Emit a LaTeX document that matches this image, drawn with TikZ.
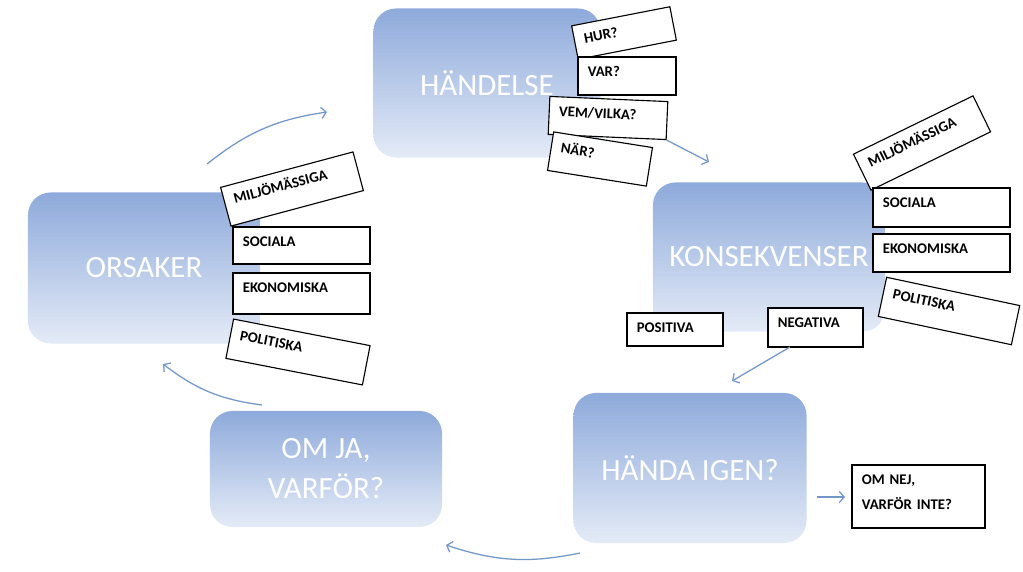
\documentclass[tikz,border=0pt]{standalone}
\usepackage{fontspec}
\setmainfont{Carlito}
\usetikzlibrary{arrows.meta}
\definecolor{boxtop}{HTML}{8EAADB}
\definecolor{boxbottom}{HTML}{E4EBF7}
\definecolor{flow}{HTML}{7397C9}
\tikzstyle{stage}=[rounded corners=16pt, top color=boxtop, bottom color=boxbottom, draw=none, text=white, font=\fontsize{22}{28.5}\selectfont, align=center, inner sep=0pt]
\tikzstyle{tag}=[draw, fill=white, line width=0.8pt, font=\fontsize{10.5}{17.8}\selectfont\bfseries, align=left, inner xsep=7pt, inner ysep=4pt, text height=10pt]
\tikzstyle{flowarrow}=[draw=flow, line width=0.9pt, -{Straight Barb[length=3.5pt,width=8pt]}]

\begin{document}
\begin{tikzpicture}[x=0.025cm, y=-0.025cm]
    \useasboundingbox (0,0) rectangle (1023,571);

    % the five steps
    \foreach \x/\y/\w/\h/\name/\txt in {487/83/227/149/haendelse/HÄNDELSE, 144/268/232/151/orsaker/ORSAKER, 769/257/232/149/konsekvenser/KONSEKVENSER, 690/468/233/150/handa/HÄNDA IGEN?, 326/469/232/116/omja/{OM JA,\\VARFÖR?}}
        \node[stage, minimum width=\w*0.7113pt, minimum height=\h*0.7113pt] (\name) at (\x,\y) {\txt};

    % small labels round the steps
    \foreach \x/\y/\w/\h/\a/\name/\txt in {292/189/137/40/15/lmiljo/MILJÖMÄSSIGA, 301.5/245.5/137/37/0/lsociala/SOCIALA, 301.5/293.5/137/41/0/lekonomi/EKONOMISKA, 298/352/139/40/-11/lpolitik/POLITISKA, 624/33/100/34/11/hur/HUR?, 627/76/98/38/0/var/VAR?, 608/118/118/38/-2.5/vem/{VEM/VILKA?}, 600/159/100/39/-9/nar/NÄR?, 922/143/133/40/26/rmiljo/MILJÖMÄSSIGA, 941.5/207.5/137/39/0/rsociala/SOCIALA, 941.5/253/137/38/0/rekonomi/EKONOMISKA, 949/311/136/40/-12/rpolitik/POLITISKA, 675/329.5/96/33/0/positiva/POSITIVA, 815.5/327.5/95/39/0/negativa/NEGATIVA}
    {
        \pgfmathsetmacro\tw{\w*0.7113-14}
        \pgfmathsetmacro\td{\h*0.7113-18}
        \node[tag, rotate=\a, text width=\tw pt, text depth=\td pt] (\name) at (\x,\y) {\txt};
    }

    \node[tag, text width=80.6pt, text depth=26.8pt] (omnej) at (918.5,496.5) {OM NEJ,\\VARFÖR INTE?};

    % arrows of the cycle
    \coordinate (c1s) at (207,164);
    \coordinate (c1e) at (327,112);
    \coordinate (c2e) at (709,162);
    \coordinate (c3s) at (790,347);
    \coordinate (c3e) at (732,381);
    \coordinate (c4s) at (580,553);
    \coordinate (c4e) at (446,545);
    \coordinate (c5s) at (262,405);
    \coordinate (c5e) at (163,364);
    \coordinate (c6s) at (817,497);
    \coordinate (c6e) at (845,497);

    \draw[flowarrow] (c1s) to[bend left=15] (c1e);
    \draw[flowarrow] (vem.south east) -- (c2e);
    \draw[flowarrow] (c3s) -- (c3e);
    \draw[flowarrow] (c4s) to[bend left=15] (c4e);
    \draw[flowarrow] (c5s) to[bend left=15] (c5e);
    \draw[flowarrow] (c6s) -- (c6e);

\end{tikzpicture}
\end{document}
